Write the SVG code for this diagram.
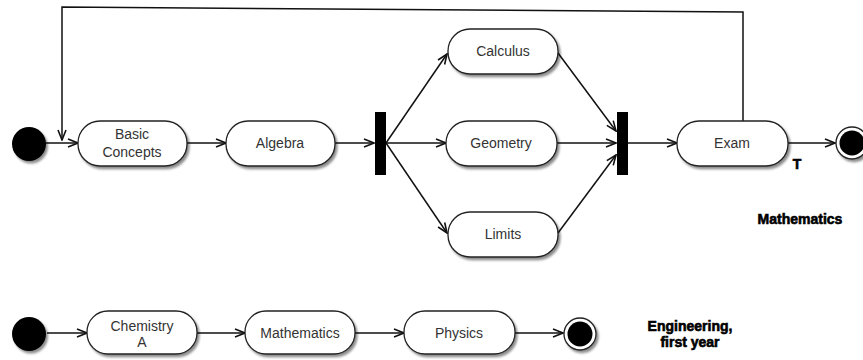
<svg xmlns="http://www.w3.org/2000/svg" width="863" height="360" viewBox="0 0 863 360">
<style>
.box{fill:#fff;stroke:#222;stroke-width:1.3;filter:url(#sh)}
.lbl{font-family:"Liberation Sans",Arial,sans-serif;font-size:14px;fill:#333;text-anchor:middle}
.bold{font-family:"Liberation Sans",Arial,sans-serif;font-size:14px;font-weight:bold;fill:#000;text-anchor:middle;stroke:#000;stroke-width:0.6}
.edge{fill:none;stroke:#111;stroke-width:1.5;marker-end:url(#arr)}
</style>
<defs>
<filter id="sh" x="-20%" y="-20%" width="140%" height="150%">
<feDropShadow dx="2" dy="2.5" stdDeviation="1" flood-color="#000" flood-opacity="0.45"/>
</filter>
<marker id="arr" viewBox="0 0 12 10" refX="11" refY="5" markerWidth="12" markerHeight="10" markerUnits="userSpaceOnUse" orient="auto">
<path d="M1,1 L11,5 L1,9" fill="none" stroke="#111" stroke-width="1.6"/>
</marker>
</defs>
<g id="connectors">
<path class="edge" d="M46,143 L78,143"/>
<path class="edge" d="M187,143 L226,143"/>
<path class="edge" d="M335,143 L374,143"/>
<path class="edge" d="M386,143 L447,54"/>
<path class="edge" d="M386,143 L446,143"/>
<path class="edge" d="M386,143 L447,233"/>
<path class="edge" d="M558,53 L616,131"/>
<path class="edge" d="M557,143 L616,143"/>
<path class="edge" d="M558,233 L616,155"/>
<path class="edge" d="M628,143 L677,143"/>
<path class="edge" d="M788,143 L835,143"/>
<path class="edge" d="M743,121 L743,12 L62,7 L62,140"/>
<path class="edge" d="M47,333 L87,333"/>
<path class="edge" d="M197,333 L245,333"/>
<path class="edge" d="M355,333 L404,333"/>
<path class="edge" d="M515,333 L563,333"/>
</g>
<g id="start1"><circle cx="29" cy="144" r="17" fill="#000" filter="url(#sh)"/></g>
<g id="basic"><rect class="box" x="78" y="121" width="109" height="45" rx="22"/><text class="lbl" x="132" y="139">Basic</text><text class="lbl" x="132" y="157">Concepts</text></g>
<g id="algebra"><rect class="box" x="226" y="121" width="109" height="45" rx="22"/><text class="lbl" x="280" y="148">Algebra</text></g>
<g id="fork"><rect x="375" y="112" width="11" height="63" fill="#000"/></g>
<g id="calculus"><rect class="box" x="448" y="29" width="110" height="45" rx="22"/><text class="lbl" x="503" y="56">Calculus</text></g>
<g id="geometry"><rect class="box" x="446" y="121" width="111" height="45" rx="22"/><text class="lbl" x="501" y="148">Geometry</text></g>
<g id="limits"><rect class="box" x="448" y="212" width="110" height="45" rx="22"/><text class="lbl" x="503" y="239">Limits</text></g>
<g id="join"><rect x="617" y="112" width="11" height="63" fill="#000"/></g>
<g id="exam"><rect class="box" x="677" y="121" width="111" height="45" rx="22"/><text class="lbl" x="732" y="148">Exam</text></g>
<g id="end1"><circle cx="852" cy="143" r="16" fill="#fff" stroke="#222" stroke-width="1.3" filter="url(#sh)"/><circle cx="852" cy="143" r="12.5" fill="#000"/></g>
<text class="bold" x="797" y="169">T</text>
<text class="bold" x="800" y="224">Mathematics</text>
<g id="start2"><circle cx="29" cy="334" r="17" fill="#000" filter="url(#sh)"/></g>
<g id="chem"><rect class="box" x="87" y="311" width="110" height="43" rx="21"/><text class="lbl" x="142" y="331">Chemistry</text><text class="lbl" x="142" y="347">A</text></g>
<g id="math"><rect class="box" x="245" y="311" width="110" height="43" rx="21"/><text class="lbl" x="300" y="338">Mathematics</text></g>
<g id="physics"><rect class="box" x="404" y="311" width="111" height="43" rx="21"/><text class="lbl" x="459" y="338">Physics</text></g>
<g id="end2"><circle cx="580" cy="334" r="16" fill="#fff" stroke="#222" stroke-width="1.3" filter="url(#sh)"/><circle cx="580" cy="334" r="12.5" fill="#000"/></g>
<text class="bold" x="690" y="331">Engineering,</text>
<text class="bold" x="690" y="347">first year</text>
</svg>
